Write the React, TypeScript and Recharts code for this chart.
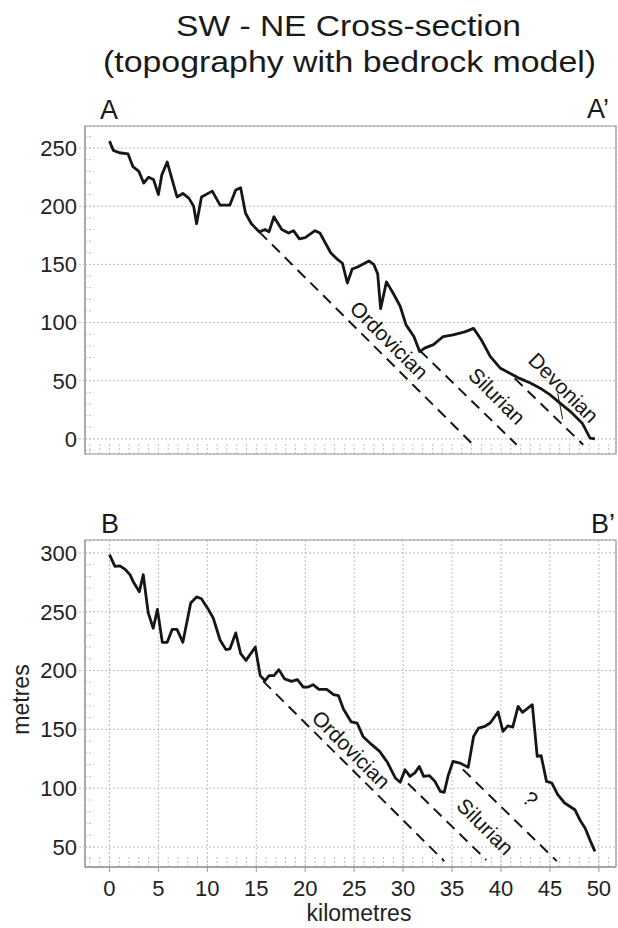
import React from 'react'
import {
  ComposedChart,
  Line,
  XAxis,
  YAxis,
  CartesianGrid,
  ReferenceLine,
  ReferenceArea,
  ReferenceDot,
} from 'recharts'

const FONT = '"Liberation Sans", Arial, Helvetica, sans-serif'
const INK = '#161616'
const FRAME = '#9a9a9a'
const GRID = '#bdbdbd'

// profile A - A'
const topKm = [
  0, 0.4, 1.0, 1.9, 2.4, 3.0, 3.5, 4.0, 4.5, 5.0, 5.35, 5.9, 6.9, 7.5, 8.1, 8.6, 8.9, 9.4, 10.5, 11.3,
  12.3, 12.9, 13.4, 13.9, 14.5, 15.3, 15.9, 16.3, 16.8, 17.6, 18.3, 18.8, 19.4, 20.0, 21.0, 21.5, 22.6,
  23.2, 23.8, 24.3, 24.8, 25.4, 26.5, 27.0, 27.4, 27.7, 28.3, 29.0, 29.7, 30.3, 31.1, 31.7, 32.2, 33.1,
  34.1, 35.1, 36.3, 37.2, 38.0, 38.9, 39.9, 40.9, 41.9, 43.0, 44.0, 45.0, 46.0, 47.1, 48.3, 49.1, 49.6,
]
const topElev = [
  256, 248, 246, 245, 234, 230, 220, 225, 223, 210, 227, 238, 208, 211, 207, 200, 185, 208, 213, 201,
  201, 214, 216, 194, 185, 178, 180, 178, 191, 180, 177, 179, 172, 173, 179, 177, 160,
  155, 151, 134, 146, 148, 153, 150, 142, 112, 135, 125, 114, 98, 88, 75, 78, 81,
  88, 89.5, 92, 95, 85, 71, 61, 56.5, 52, 48, 43.6, 38, 31, 23.5, 13.5, 0.6, 0,
]

// profile B - B'
const bottomKm = [
  0, 0.56, 1.07, 1.6, 2.1, 2.4, 3.05, 3.45, 3.96, 4.47, 4.9, 5.4, 5.9, 6.4, 6.9, 7.5, 8.3, 8.9, 9.4,
  10.1, 10.6, 11.3, 11.9, 12.3, 12.9, 13.4, 13.95, 14.9, 15.4, 15.9, 16.3, 16.8, 17.3, 17.9, 18.6,
  19.2, 19.8, 20.3, 20.8, 21.4, 22.2, 22.9, 23.4, 23.9, 24.7, 25.3, 25.9, 26.8, 27.6, 28.4, 29.2,
  29.7, 30.2, 30.7, 31.2, 31.65, 32.1, 32.7, 33.25, 33.8, 34.2, 34.6, 35.1, 35.8, 36.65, 37.2, 37.7,
  38.35, 38.9, 39.7, 40.2, 40.7, 41.2, 41.75, 42.2, 43.2, 43.7, 44.1, 44.65, 45.2, 45.8, 46.5, 47.55,
  48.05, 48.6, 49.15, 49.6,
]
const bottomElev = [
  298.5, 288.6, 289, 286, 281.5, 276, 267, 281.5, 249, 236, 252, 224, 224, 235, 235, 224, 257.5, 262.6, 261,
  252, 244.7, 226, 217.8, 218.4, 232, 214.4, 208.7, 220, 195.7, 191.4, 195.7, 195.7, 200.8, 192.9, 190.8,
  192.3, 186, 186, 188, 184, 184, 179.5, 178.6, 167.3, 156.3, 155.4, 144, 137, 131.3, 122, 108.7,
  105, 115.7, 110, 113, 118.5, 110, 110.6, 105.8, 97.3, 96.4, 110.6, 122.8, 121.4, 117.7, 144, 151,
  152.6, 155.4, 164.8, 148.3, 153, 152, 169.6, 164.5, 171, 127, 127.6, 105.8, 104.4, 94.5, 87.4, 81.7,
  73.2, 66, 54.8, 46.3,
]

// bedrock contacts (dashed), start / end in [km, m]
const topContactStart = [[15.3, 178], [31.7, 76], [41.4, 52]]
const topContactEnd = [[37.4, -7], [41.6, -5], [48.4, -5]]
const bottomContactStart = [[15.7, 191], [30.5, 104], [36.1, 116]]
const bottomContactEnd = [[34.2, 38], [38.5, 39], [45.7, 38]]

const topUnits = ['Ordovician', 'Silurian', 'Devonian']
const topUnitKm = [28.6, 39.6, 46.4]
const topUnitElev = [85, 37, 44]
const bottomUnits = ['Ordovician', 'Silurian', '?']
const bottomUnitKm = [24.7, 38.4, 43.0]
const bottomUnitElev = [133, 67.5, 91]

// ticks
const kmTicks = [0, 5, 10, 15, 20, 25, 30, 35, 40, 45, 50]
const minorKm = [
  -2, -1, 0, 1, 2, 3, 4, 5, 6, 7, 8, 9, 10, 11, 12, 13, 14, 15, 16, 17, 18, 19, 20, 21, 22, 23, 24, 25,
  26, 27, 28, 29, 30, 31, 32, 33, 34, 35, 36, 37, 38, 39, 40, 41, 42, 43, 44, 45, 46, 47, 48, 49, 50, 51,
]
const topElevTicks = [0, 50, 100, 150, 200, 250]
const topMinorElev = [
  -10, 0, 10, 20, 30, 40, 50, 60, 70, 80, 90, 100, 110, 120, 130, 140, 150, 160, 170, 180, 190, 200, 210,
  220, 230, 240, 250, 260,
]
const bottomElevTicks = [50, 100, 150, 200, 250, 300]
const bottomMinorElev = [
  40, 50, 60, 70, 80, 90, 100, 110, 120, 130, 140, 150, 160, 170, 180, 190, 200, 210, 220, 230, 240, 250,
  260, 270, 280, 290, 300, 310,
]

const KM_DOMAIN = [-2.5, 51.75]

const unitLabel = (text: string) => (props: any) => {
  const vb = props.viewBox || {}
  const cx = (vb.x ?? 0) + (vb.width ?? 0) / 2
  const cy = (vb.y ?? 0) + (vb.height ?? 0) / 2
  return (
    <text
      x={cx}
      y={cy}
      transform={`rotate(45 ${cx} ${cy})`}
      textAnchor="middle"
      dominantBaseline="central"
      fontSize={21}
      fontFamily={FONT}
      fill={INK}
    >
      {text}
    </text>
  )
}

const tickStyle = { fontSize: 22, fill: '#222', fontFamily: FONT }

function Panel(props: {
  km: number[]
  elev: number[]
  yDomain: number[]
  yTicks: number[]
  yMinor: number[]
  cStart: number[][]
  cEnd: number[][]
  units: string[]
  unitKm: number[]
  unitElev: number[]
  height: number
  marginTop: number
  showKm: boolean
  extra?: React.ReactNode
}) {
  const { km, elev, yDomain, yTicks, yMinor, cStart, cEnd, units, unitKm, unitElev, showKm } = props
  const data = km.map((k, i) => ({ km: k, elev: elev[i] }))
  const yLo = yDomain[0]
  const xLo = KM_DOMAIN[0]
  const minorLenY = 8.5
  const minorLenX = 0.85

  return (
    <ComposedChart
      width={618}
      height={props.height}
      data={data}
      margin={{ top: props.marginTop, right: 2, left: 0, bottom: showKm ? 0 : 16 }}
    >
      <CartesianGrid stroke={GRID} strokeDasharray="2 2" />
      <XAxis
        dataKey="km"
        type="number"
        domain={KM_DOMAIN}
        allowDataOverflow
        ticks={kmTicks}
        interval={0}
        height={showKm ? 61 : 0}
        tick={showKm ? tickStyle : false}
        tickSize={5}
        tickMargin={8}
        tickLine={{ stroke: FRAME }}
        axisLine={{ stroke: '#888' }}
        label={
          showKm
            ? (p: any) => {
                const vb = p.viewBox || {}
                return (
                  <text x={(vb.x ?? 0) + 274} y={(vb.y ?? 0) + 54} textAnchor="middle" fontSize={23} fontFamily={FONT} fill="#222">
                    kilometres
                  </text>
                )
              }
            : undefined
        }
      />
      <YAxis
        type="number"
        domain={yDomain}
        allowDataOverflow
        ticks={yTicks}
        interval={0}
        width={85}
        tick={tickStyle}
        tickSize={6}
        tickMargin={2}
        tickLine={{ stroke: GRID, strokeDasharray: '2 2' }}
        axisLine={{ stroke: FRAME }}
        label={
          showKm
            ? (p: any) => {
                const vb = p.viewBox || {}
                const x = (vb.x ?? 0) + 21
                const y = (vb.y ?? 0) + (vb.height ?? 0) / 2 - 4
                return (
                  <text x={x} y={y} transform={`rotate(-90 ${x} ${y})`} textAnchor="middle" dominantBaseline="central" fontSize={23} fontFamily={FONT} fill="#222">
                    metres
                  </text>
                )
              }
            : undefined
        }
      />
      <ReferenceArea
        x1={KM_DOMAIN[0]}
        x2={KM_DOMAIN[1]}
        y1={yDomain[0]}
        y2={yDomain[1]}
        fill="none"
        stroke={FRAME}
        strokeWidth={1.2}
        ifOverflow="visible"
      />
      {minorKm.map((k) => (
        <ReferenceLine
          key={'mk' + k}
          segment={[{ x: k, y: yLo }, { x: k, y: yLo + minorLenY }]}
          stroke={GRID}
          strokeDasharray="2 2"
          ifOverflow="visible"
        />
      ))}
      {yMinor.map((v) => (
        <ReferenceLine
          key={'my' + v}
          segment={[{ x: xLo, y: v }, { x: xLo + minorLenX, y: v }]}
          stroke={GRID}
          strokeDasharray="2 2"
          ifOverflow="visible"
        />
      ))}
      {cStart.map((s, i) => (
        <ReferenceLine
          key={'c' + i}
          segment={[{ x: s[0], y: s[1] }, { x: cEnd[i][0], y: cEnd[i][1] }]}
          stroke={INK}
          strokeWidth={2}
          strokeDasharray="11 7"
          ifOverflow="visible"
        />
      ))}
      {props.extra}
      <Line
        dataKey="elev"
        type="linear"
        stroke={INK}
        strokeWidth={2.8}
        strokeLinejoin="round"
        dot={false}
        activeDot={false}
        isAnimationActive={false}
      />
      {units.map((u, i) => (
        <ReferenceDot
          key={'u' + i}
          x={unitKm[i]}
          y={unitElev[i]}
          r={0}
          fill="none"
          stroke="none"
          ifOverflow="visible"
          label={unitLabel(u)}
        />
      ))}
    </ComposedChart>
  )
}

// small cross mark on the Devonian contact
const devonianMarkStart = [45.8, 39]
const devonianMarkEnd = [46.3, 17]

export default function App() {
  const headStyle = { fontFamily: FONT, fill: '#1a1a1a' }
  return (
    <div style={{ position: 'absolute', left: 0, top: 0, width: 618, height: 928, background: '#fff', overflow: 'hidden' }}>
      <div style={{ position: 'absolute', left: 0, top: 0 }}>
        <Panel
          km={topKm}
          elev={topElev}
          yDomain={[-13, 269]}
          yTicks={topElevTicks}
          yMinor={topMinorElev}
          cStart={topContactStart}
          cEnd={topContactEnd}
          units={topUnits}
          unitKm={topUnitKm}
          unitElev={topUnitElev}
          height={470}
          marginTop={126}
          showKm={false}
          extra={
            <ReferenceLine
              segment={[
                { x: devonianMarkStart[0], y: devonianMarkStart[1] },
                { x: devonianMarkEnd[0], y: devonianMarkEnd[1] },
              ]}
              stroke={INK}
              strokeWidth={1}
              ifOverflow="visible"
            />
          }
        />
      </div>
      <div style={{ position: 'absolute', left: 0, top: 470 }}>
        <Panel
          km={bottomKm}
          elev={bottomElev}
          yDomain={[33, 311]}
          yTicks={bottomElevTicks}
          yMinor={bottomMinorElev}
          cStart={bottomContactStart}
          cEnd={bottomContactEnd}
          units={bottomUnits}
          unitKm={bottomUnitKm}
          unitElev={bottomUnitElev}
          height={458}
          marginTop={70}
          showKm={true}
        />
      </div>
      <svg width={618} height={928} style={{ position: 'absolute', left: 0, top: 0, pointerEvents: 'none' }}>
        <text x={348.5} y={36} textAnchor="middle" fontSize={30} textLength={345} lengthAdjust="spacingAndGlyphs" {...headStyle}>
          SW - NE Cross-section
        </text>
        <text x={349.5} y={72} textAnchor="middle" fontSize={30} textLength={493} lengthAdjust="spacingAndGlyphs" {...headStyle}>
          (topography with bedrock model)
        </text>
        <text x={100} y={119} fontSize={27} {...headStyle}>A</text>
        <text x={587} y={118} fontSize={27} {...headStyle}>A’</text>
        <text x={101} y={533} fontSize={27} {...headStyle}>B</text>
        <text x={591} y={533} fontSize={27} {...headStyle}>B’</text>
      </svg>
    </div>
  )
}
